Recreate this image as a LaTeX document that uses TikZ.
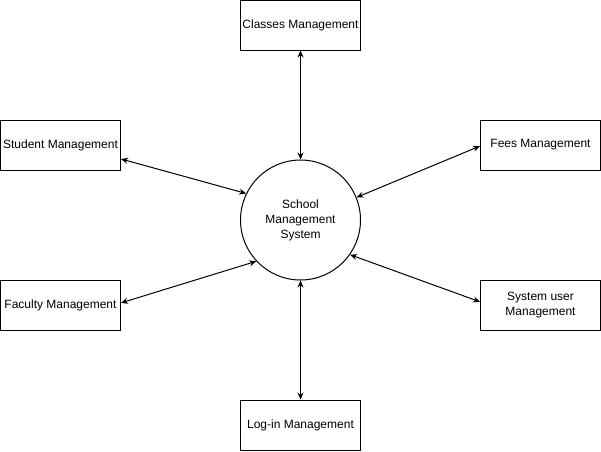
\documentclass[tikz,border=0pt]{standalone}
\usepackage{fontspec}
\setmainfont{Liberation Sans}
\usetikzlibrary{arrows.meta,positioning}
\tikzset{
    %Define standard arrow tip
    >={Stealth[length=7pt,width=6pt]},
    %Define style for boxes
    module/.style={
           rectangle,
           draw=black, line width=1pt,
           minimum width=120pt,
           minimum height=50pt,
           inner sep=2pt,
           align=center,
           font=\fontsize{12}{15}\selectfont},
    core/.style={
           circle,
           draw=black, line width=1pt,
           minimum size=120pt,
           inner sep=0pt,
           align=center,
           font=\fontsize{12}{15}\selectfont},
    % Define arrow style
    link/.style={
           <->,
           line width=1pt}
}
\begin{document}
\begin{tikzpicture}[x=1pt,y=-1pt]
\useasboundingbox (0,0) rectangle (601,451);
\node[core](sms) at (300.5,220){School\\Management\\System};
\node[module, above=109pt of sms](cls){Classes Management};
\node[module, below=119pt of sms](log){Log-in Management};
\node[module](stu) at (60.5,145){Student Management};
\node[module](fee) at (540.5,145){Fees Management};
\node[module](fac) at (60.5,305){Faculty Management};
\node[module](usr) at (540.5,305){System user\\Management};

\path[link]
	(cls) edge (sms)
	(log) edge (sms)
	(stu.-13) edge (sms.154)
	(fee.181) edge (sms.22)
	(fac.2) edge (sms.223)
	(usr.177) edge (sms.325);
\end{tikzpicture}
\end{document}
